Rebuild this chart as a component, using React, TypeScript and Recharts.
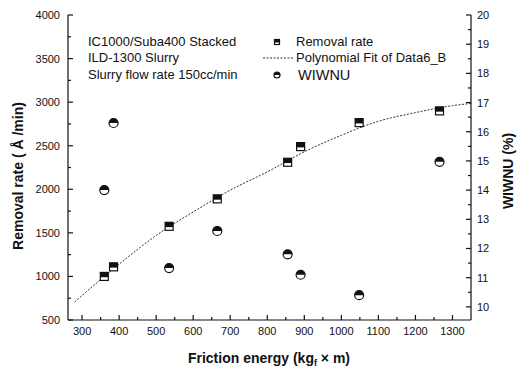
import { ComposedChart, Scatter, XAxis, YAxis } from 'recharts';

// measured points
const frictionEnergy = [360, 385, 535, 665, 855, 890, 1048, 1265];
const removalRate = [1000, 1110, 1575, 1890, 2310, 2490, 2765, 2900];
const wiwnu = [14.0, 16.3, 11.33, 12.6, 11.8, 11.1, 10.4, 14.97];

// polynomial fit
const fitEnergy = [280, 360, 400, 500, 600, 700, 800, 900, 1000, 1100, 1200, 1300, 1350];
const fitRate = [707, 1000, 1140, 1470, 1740, 1990, 2200, 2430, 2620, 2780, 2880, 2960, 2985];

const xTicks = [300, 350, 400, 450, 500, 550, 600, 650, 700, 750, 800, 850, 900, 950, 1000, 1050, 1100, 1150, 1200, 1250, 1300];
const leftTicks = [500, 750, 1000, 1250, 1500, 1750, 2000, 2250, 2500, 2750, 3000, 3250, 3500, 3750, 4000];
const rightTicks = [10, 10.5, 11, 11.5, 12, 12.5, 13, 13.5, 14, 14.5, 15, 15.5, 16, 16.5, 17, 17.5, 18, 18.5, 19, 19.5, 20];

const rateData = frictionEnergy.map((x, i) => ({ x, y: removalRate[i] }));
const wiwnuData = frictionEnergy.map((x, i) => ({ x, y: wiwnu[i] }));
const fitData = fitEnergy.map((x, i) => ({ x, y: fitRate[i] }));

const FONT = 'Arial, "Liberation Sans", sans-serif';
const INK = '#111';

const HalfSquare = ({ cx, cy, s = 8 }: any) => (
  <g>
    <rect x={cx - s / 2} y={cy - s / 2} width={s} height={s} fill="#fff" stroke={INK} strokeWidth={1.2} />
    <rect x={cx - s / 2} y={cy - s / 2} width={s} height={s * 0.6} fill={INK} />
  </g>
);

const HalfCircle = ({ cx, cy, r = 4.5 }: any) => (
  <g>
    <circle cx={cx} cy={cy} r={r} fill="#fff" stroke={INK} strokeWidth={1.2} />
    <path d={`M${cx - r},${cy} A${r},${r} 0 0 1 ${cx + r},${cy} Z`} fill={INK} />
  </g>
);

const XTick = ({ x, y, payload }: any) => {
  const major = payload.value % 100 === 0;
  return (
    <g>
      <line x1={x} y1={y} x2={x} y2={y - (major ? 5 : 3)} stroke={INK} strokeWidth={1.2} />
      {major && (
        <text x={x} y={y + 15} textAnchor="middle" fontSize={11} fontFamily={FONT} fill={INK}>
          {payload.value}
        </text>
      )}
    </g>
  );
};

const LeftTick = ({ x, y, payload }: any) => {
  const major = payload.value % 500 === 0;
  return (
    <g>
      <line x1={x} y1={y} x2={x + (major ? 5 : 3)} y2={y} stroke={INK} strokeWidth={1.2} />
      {major && (
        <text x={x - 8} y={y + 4} textAnchor="end" fontSize={11} fontFamily={FONT} fill={INK}>
          {payload.value}
        </text>
      )}
    </g>
  );
};

const RightTick = ({ x, y, payload }: any) => {
  const major = Number.isInteger(payload.value);
  return (
    <g>
      <line x1={x} y1={y} x2={x - (major ? 5 : 3)} y2={y} stroke={INK} strokeWidth={1.2} />
      {major && (
        <text x={x + 6} y={y + 4} textAnchor="start" fontSize={11} fontFamily={FONT} fill={INK}>
          {payload.value}
        </text>
      )}
    </g>
  );
};

export default function App() {
  return (
    <div style={{ position: 'absolute', left: 0, top: 0, background: '#fff' }}>
      <svg width={0} height={0} style={{ position: 'absolute' }} />
      <div style={{ position: 'relative', width: 525, height: 369 }}>
        <ComposedChart width={525} height={369} margin={{ top: 15, right: 0, bottom: 0, left: 0 }}>
          <XAxis
            xAxisId="top"
            orientation="top"
            type="number"
            dataKey="x"
            domain={[262, 1350]}
            height={0}
            tick={false}
            tickLine={false}
            axisLine={{ stroke: INK, strokeWidth: 1.2 }}
          />
          <XAxis
            type="number"
            dataKey="x"
            domain={[262, 1350]}
            ticks={xTicks}
            interval={0}
            height={49}
            tickSize={0}
            tickMargin={0}
            tickLine={false}
            tick={<XTick />}
            axisLine={{ stroke: INK, strokeWidth: 1.2 }}
          />
          <YAxis
            yAxisId="left"
            type="number"
            dataKey="y"
            domain={[500, 4000]}
            ticks={leftTicks}
            interval={0}
            width={68}
            tickSize={0}
            tickMargin={0}
            tickLine={false}
            tick={<LeftTick />}
            axisLine={{ stroke: INK, strokeWidth: 1.2 }}
          />
          <YAxis
            yAxisId="right"
            orientation="right"
            type="number"
            dataKey="y"
            domain={[9.55, 20]}
            ticks={rightTicks}
            interval={0}
            width={54}
            tickSize={0}
            tickMargin={0}
            tickLine={false}
            tick={<RightTick />}
            axisLine={{ stroke: INK, strokeWidth: 1.2 }}
          />
          <Scatter
            yAxisId="left"
            data={fitData}
            line={{ stroke: '#333', strokeWidth: 1, strokeDasharray: '2 1.5' }}
            lineJointType="monotoneX"
            shape={() => <g />}
            isAnimationActive={false}
          />
          <Scatter
            yAxisId="left"
            data={rateData}
            shape={(p: any) => <HalfSquare cx={p.cx} cy={p.cy} />}
            isAnimationActive={false}
          />
          <Scatter
            yAxisId="right"
            data={wiwnuData}
            shape={(p: any) => <HalfCircle cx={p.cx} cy={p.cy} />}
            isAnimationActive={false}
          />
        </ComposedChart>
        <svg width={525} height={369} style={{ position: 'absolute', left: 0, top: 0, pointerEvents: 'none' }}>
          <g fontFamily={FONT} fill={INK} fontSize={13}>
            <text x={88} y={46}>IC1000/Suba400 Stacked</text>
            <text x={88} y={62}>ILD-1300 Slurry</text>
            <text x={88} y={79}>Slurry flow rate 150cc/min</text>
            <text x={296} y={46}>Removal rate</text>
            <text x={296} y={62}>Polynomial Fit of Data6_B</text>
            <text x={298} y={80} fontSize={14.5}>WIWNU</text>
          </g>
          <HalfSquare cx={277} cy={42} s={5} />
          <line x1={263} y1={58} x2={293} y2={58} stroke="#333" strokeWidth={1} strokeDasharray="2 1.5" />
          <HalfCircle cx={277} cy={75} r={3} />
          <g fontFamily={FONT} fill={INK} fontSize={14} fontWeight="bold">
            <text x={269} y={363} textAnchor="middle">
              Friction energy (kg<tspan fontSize={9} dy={3}>f</tspan>
              <tspan dy={-3}> × m)</tspan>
            </text>
            <text transform="translate(23,176) rotate(-90)" textAnchor="middle">
              Removal rate ( Å /min)
            </text>
            <text transform="translate(513,171) rotate(-90)" textAnchor="middle">
              WIWNU (%)
            </text>
          </g>
        </svg>
      </div>
    </div>
  );
}
